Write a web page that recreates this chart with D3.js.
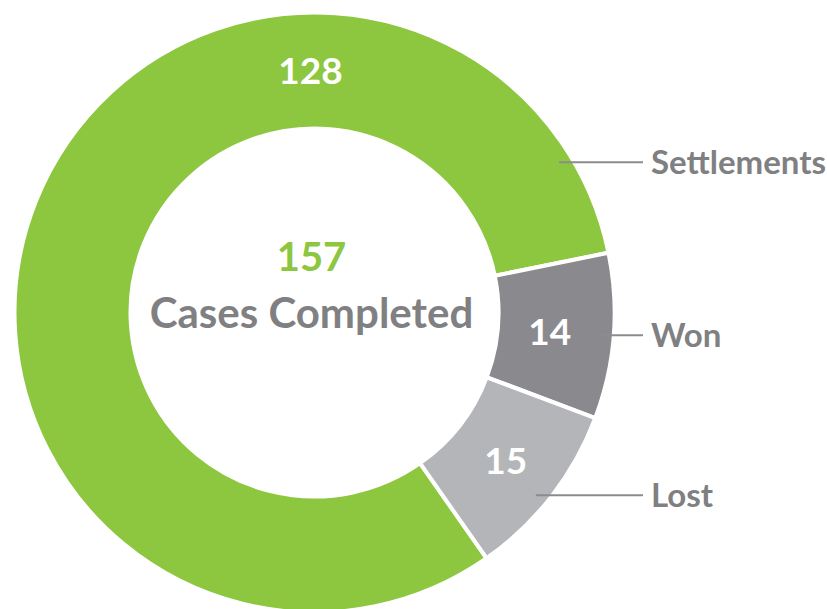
<!DOCTYPE html>
<html>
<head>
<meta charset="utf-8">
<script src="https://cdn.jsdelivr.net/npm/d3@7"></script>
<style>
	body { margin: 0; background: #fff; }
	svg { display: block; font-family: Lato, 'Open Sans', sans-serif; font-weight: bold; }
</style>
</head>
<body>
<svg width="827" height="609"></svg>
<script>
	// chart data
	let categories = ['Settlements', 'Won', 'Lost'];
	let values = [128, 14, 15];
	let colors = ['#8DC63F', '#8A898D', '#B4B5B8'];
	let totalLabel = 'Cases Completed';

	let svg = d3.select('svg');
	let cx = 314.5;
	let cy = 312.5;
	let outerRadius = 300;
	let innerRadius = 184;
	let textGray = '#808083';

	let dataset = categories.map(function(c, i) {
		return { name: c, value: values[i], color: colors[i] };
	});

	// Settlements starts at ~145deg so the small slices sit on the right
	let start = 145 * Math.PI / 180;
	let pie = d3.pie().sort(null).value(function(d) { return d.value; })
		.startAngle(start).endAngle(start + 2 * Math.PI);
	let arcs = pie(dataset);

	let arc = d3.arc().innerRadius(innerRadius).outerRadius(outerRadius);
	let g = svg.append('g').attr('transform', 'translate(' + cx + ',' + cy + ')');

	g.selectAll('path.slice').data(arcs).enter().append('path')
		.attr('class', 'slice')
		.attr('d', arc)
		.attr('fill', function(d) { return d.data.color; })
		.attr('stroke', '#fff')
		.attr('stroke-width', 4)
		.attr('stroke-linejoin', 'miter');

	// value labels inside the ring
	let midRadius = (innerRadius + outerRadius) / 2;
	function valueAngle(d, i) {
		// big slice label goes at the top of the ring
		return i === 0 ? 2 * Math.PI : (d.startAngle + d.endAngle) / 2;
	}
	g.selectAll('text.value').data(arcs).enter().append('text')
		.attr('class', 'value')
		.attr('x', function(d, i) { return Math.sin(valueAngle(d, i)) * (i === 1 ? midRadius - 6 : midRadius) - (i === 0 ? 4 : 0); })
		.attr('y', function(d, i) { return -Math.cos(valueAngle(d, i)) * midRadius; })
		.attr('dy', '0.36em')
		.attr('text-anchor', 'middle')
		.attr('fill', '#fff')
		.attr('font-size', 37)
		.text(function(d) { return d.data.value; });

	// leader lines + category labels
	let leaderRadius = 287;
	let lineEnd = 643 - cx;
	function leaderAngle(d, i) {
		if (i === 0) return d.endAngle - 0.35;
		if (i === 2) return d.endAngle - 0.27;
		return (d.startAngle + d.endAngle) / 2;
	}
	let labels = g.selectAll('g.label').data(arcs).enter().append('g').attr('class', 'label');
	labels.append('line')
		.attr('x1', function(d, i) { return Math.sin(leaderAngle(d, i)) * leaderRadius; })
		.attr('y1', function(d, i) { return -Math.cos(leaderAngle(d, i)) * leaderRadius; })
		.attr('x2', lineEnd)
		.attr('y2', function(d, i) { return -Math.cos(leaderAngle(d, i)) * leaderRadius; })
		.attr('stroke', '#8C8C8E')
		.attr('stroke-width', 2);
	labels.append('text')
		.attr('x', lineEnd + 8)
		.attr('y', function(d, i) { return -Math.cos(leaderAngle(d, i)) * leaderRadius; })
		.attr('dy', '0.36em')
		.attr('fill', textGray)
		.attr('font-size', 33)
		.text(function(d) { return d.data.name; });

	// centre total
	let total = d3.sum(values);
	g.append('text')
		.attr('x', -3)
		.attr('y', -42)
		.attr('text-anchor', 'middle')
		.attr('fill', colors[0])
		.attr('font-size', 40)
		.text(total);
	g.append('text')
		.attr('x', -3)
		.attr('y', 15)
		.attr('text-anchor', 'middle')
		.attr('fill', textGray)
		.attr('font-size', 42)
		.text(totalLabel);
</script>
</body>
</html>
